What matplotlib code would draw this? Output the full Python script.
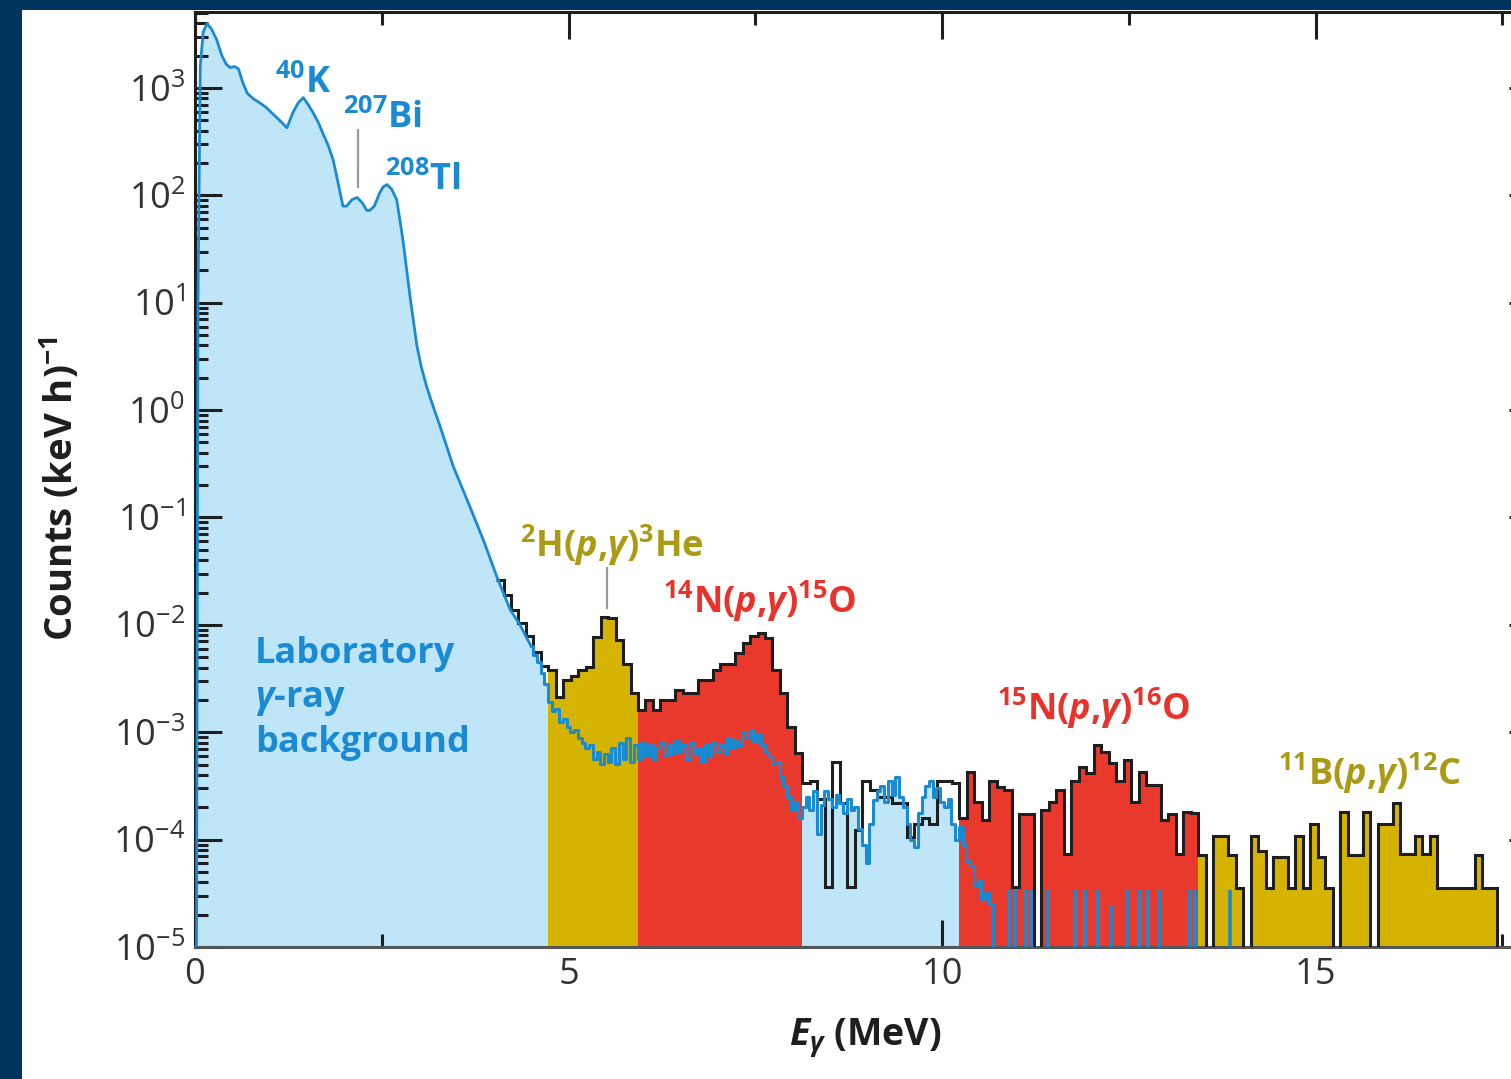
import numpy as np
import matplotlib.pyplot as plt
from matplotlib.patches import Rectangle
from matplotlib.ticker import LogLocator, MultipleLocator, NullFormatter

plt.rcParams['font.family'] = ['Open Sans', 'DejaVu Sans']
plt.rcParams['mathtext.fontset'] = 'custom'
plt.rcParams['mathtext.rm'] = 'Open Sans'
plt.rcParams['mathtext.it'] = 'Open Sans:italic:bold'
plt.rcParams['mathtext.bf'] = 'Open Sans:bold'

# colours
NAVY = '#00345f'
LIGHT_BLUE = '#bfe5f8'
BLUE = '#1a8ad2'
GOLD = '#d4b400'
RED = '#e9392c'
GOLD_TXT = '#aa9a14'
RED_TXT = '#e8322a'
INK = '#1e1e1e'
FLOOR = 1e-7

# laboratory background, smooth part (E in MeV, log10 counts)
bg_smooth_E = [0.02, 0.04, 0.07, 0.11, 0.16, 0.22, 0.29, 0.36, 0.42, 0.47, 0.53, 0.58,
               0.64, 0.70, 0.78, 0.87, 0.95, 1.04, 1.13, 1.23, 1.31, 1.38, 1.45, 1.52,
               1.58, 1.65, 1.71, 1.78, 1.85, 1.92, 1.98, 2.03, 2.10, 2.17, 2.24, 2.30,
               2.34, 2.40, 2.47, 2.52, 2.57, 2.63, 2.70, 2.78, 2.88, 2.97, 3.03, 3.10,
               3.18, 3.28, 3.46, 3.68, 3.86, 4.04, 4.22, 4.35, 4.50]
bg_smooth_log = [-5.0, 1.0, 3.2, 3.52, 3.60, 3.55, 3.45, 3.30, 3.22, 3.19, 3.20, 3.18,
                 3.05, 2.95, 2.90, 2.86, 2.82, 2.76, 2.70, 2.63, 2.77, 2.86, 2.91, 2.84,
                 2.77, 2.68, 2.58, 2.47, 2.33, 2.10, 1.90, 1.90, 1.96, 1.98, 1.93, 1.86,
                 1.86, 1.90, 2.02, 2.08, 2.10, 2.06, 1.96, 1.60, 1.05, 0.60, 0.40, 0.22,
                 0.05, -0.15, -0.53, -0.90, -1.21, -1.55, -1.86, -2.00, -2.20]

# laboratory background, fine bins from 4.50 MeV, 0.05 MeV wide (log10 counts, None = empty)
bg_fine_start = 4.50
bg_fine_width = 0.05
bg_fine_log = [
    -2.20, -2.28, -2.35, -2.45, -2.55, -2.72, -2.80, -2.78, -2.90, -2.88,
    -2.95, -3.00, -2.98, -3.05, -3.10, -3.15, -3.12, -3.25, -3.18, -3.30,
    -3.20, -3.28, -3.15, -3.30, -3.10, -3.25, -3.05, -3.28, -3.12, -3.25,
    -3.10, -3.22, -3.12, -3.25, -3.15, -3.10, -3.22, -3.12, -3.20, -3.08,
    -3.18, -3.12, -3.25, -3.10, -3.20, -3.15, -3.28, -3.12, -3.22, -3.10,
    -3.18, -3.12, -3.20, -3.05, -3.15, -3.08, -3.12, -3.00, -3.05, -2.98,
    -3.08, -3.02, -3.12, -3.18, -3.22, -3.30, -3.28, -3.42, -3.50, -3.60,
    -3.72, -3.65, -3.80, -3.70, -3.60, -3.72, -3.55, -3.95, -3.68, -3.55,
    -3.62, -3.70, -3.58, -3.66, -3.75, -3.62, -3.72, -3.70, -3.90, -4.05,
    -4.22, -3.85, -3.63, -3.55, -3.50, -3.65, -3.45, -3.58, -3.42, -3.60,
    -3.70, -3.85, -4.00, -4.07, -3.75, -3.60, -3.50, -3.45, -3.60, -3.52,
    -3.65, -3.70, -3.62, -3.85, -4.00, -3.88, -4.05, -4.20, -4.25, -4.42,
    -4.38, -4.55, -4.50, -4.60, None]

# isolated background counts above 10.7 MeV
bg_spike_E = [10.89, 10.98, 11.13, 11.20, 11.42, 11.78, 11.91, 12.09, 12.26,
              12.48, 12.63, 12.76, 12.90, 13.32, 13.38, 13.86]
bg_spike_log = [-4.47, -4.47, -4.47, -4.47, -4.47, -4.47, -4.47, -4.47, -4.62,
                -4.47, -4.47, -4.47, -4.47, -4.47, -4.47, -4.47]

# in-beam spectrum, 0.1 MeV bins from 4.03 MeV (log10 counts, None = empty)
beam_start = 4.03
beam_width = 0.1
beam_log = [
    -1.58, -1.72, -1.86, -1.98, -2.10, -2.25, -2.38, -2.42, -2.67, -2.51,
    -2.48, -2.42, -2.39, -2.11, -1.93, -1.94, -2.14, -2.36, -2.63, -2.79,
    -2.70, -2.79, -2.70, -2.70, -2.61, -2.63, -2.63, -2.51, -2.51, -2.42,
    -2.36, -2.36, -2.26, -2.17, -2.10, -2.08, -2.12, -2.42, -2.63, -2.95,
    -3.19, -3.47, -3.45, -3.62, -4.44, -3.28, -3.66, -4.44, -3.91, -3.45,
    -3.54, -3.60, -3.60, -3.66, -3.66, -3.98, -3.85, -3.80, -3.85, -3.45,
    -3.45, -3.47, -3.80, -3.37, -3.65, -3.82, -3.45, -3.51, -3.54, -4.44,
    -3.76, -3.76, None, -3.72, -3.65, -3.54, -4.13, -3.45, -3.32, -3.38,
    -3.12, -3.18, -3.29, -3.45, -3.26, -3.65, -3.37, -3.49, -3.49, -3.82,
    -3.76, -4.13, -3.74, -3.75, -4.14, None, -3.97, -3.97, -4.14, -4.45,
    None, -3.97, -4.11, -4.45, -4.16, -4.16, -4.45, -3.97, -4.45, -3.85,
    -4.16, -4.45, None, -3.74, -4.14, -4.14, -3.74, None, -3.85, -3.85,
    -3.66, -4.13, -4.13, -3.97, -4.13, -3.97, -4.45, -4.45, -4.45, -4.45,
    -4.45, -4.14, -4.45, -4.45, None, None, None, None, None, None]

# energy ranges and the reaction they are attributed to
region_bounds = [4.73, 5.93, 8.13, 10.23, 13.43, 18.03]
region_colors = [GOLD, RED, None, RED, GOLD]


def to_counts(logs):
    arr = np.array(logs, dtype=float)
    return np.where(np.isnan(arr), FLOOR, 10.0 ** arr)


sm_E = np.array(bg_smooth_E)
sm_v = to_counts(bg_smooth_log)
fine_v = to_counts(bg_fine_log)
fine_E = bg_fine_start + bg_fine_width * np.arange(len(fine_v))
beam_v = to_counts(beam_log)
beam_edges = beam_start + beam_width * np.arange(len(beam_v) + 1)

fig = plt.figure(figsize=(15.11, 10.79), dpi=100, facecolor=NAVY)
fig.patches.append(Rectangle((22 / 1511, 0), 1, 1 - 10 / 1079, transform=fig.transFigure,
                             facecolor='white', edgecolor='none', zorder=-5))
# the frame runs a little past the right edge of the picture
ax = fig.add_axes([195 / 1511, 132 / 1079, 1341 / 1511, 935 / 1079])
ax.set_yscale('log')
ax.set_xlim(0, 17.95)
ax.set_ylim(1e-5, 5.1e3)

# light blue area under the background
ax.fill_between(sm_E, sm_v, FLOOR, color=LIGHT_BLUE, lw=0, zorder=1)
ax.fill_between(fine_E, fine_v, FLOOR, step='mid', color=LIGHT_BLUE, lw=0, zorder=1)

# coloured parts of the in-beam spectrum
for lo, hi, col in zip(region_bounds[:-1], region_bounds[1:], region_colors):
    if col is None:
        continue
    i0 = int(np.argmin(np.abs(beam_edges - lo)))
    i1 = int(np.argmin(np.abs(beam_edges - hi)))
    ax.stairs(beam_v[i0:i1], beam_edges[i0:i1 + 1], baseline=FLOOR, fill=True,
              color=col, lw=0, zorder=2)

ax.vlines(bg_spike_E, FLOOR, to_counts(bg_spike_log), color=BLUE, lw=2.6, zorder=3)
ax.stairs(beam_v, beam_edges, baseline=None, color=INK, lw=2.2, zorder=4)
ax.plot(fine_E, fine_v, drawstyle='steps-mid', color=BLUE, lw=2.2, zorder=5)
ax.plot(sm_E, sm_v, color=BLUE, lw=2.0, zorder=5)

# pointer lines
ax.plot([2.18, 2.18], [405, 119], color='#9a9a9a', lw=1.6, zorder=5)
ax.plot([5.52, 5.52], [0.034, 0.0145], color='#9a9a9a', lw=1.6, zorder=5)

# labels
kw = dict(fontsize=26, fontweight='bold', ha='left', va='baseline', zorder=6)
ax.text(1.07, 890, r'$^{\mathbf{40}}$K', color=BLUE, **kw)
ax.text(1.98, 423, r'$^{\mathbf{207}}$Bi', color=BLUE, **kw)
ax.text(2.54, 112, r'$^{\mathbf{208}}$Tl', color=BLUE, **kw)
ax.text(4.35, 0.0428, r'$^{\mathbf{2}}$H($\mathit{p}$,$\mathit{\gamma}$)$^{\mathbf{3}}$He',
        color=GOLD_TXT, **kw)
ax.text(6.27, 0.0129, r'$^{\mathbf{14}}$N($\mathit{p}$,$\mathit{\gamma}$)$^{\mathbf{15}}$O',
        color=RED_TXT, **kw)
ax.text(10.74, 1.3e-3, r'$^{\mathbf{15}}$N($\mathit{p}$,$\mathit{\gamma}$)$^{\mathbf{16}}$O',
        color=RED_TXT, **kw)
ax.text(14.5, 3.2e-4, r'$^{\mathbf{11}}$B($\mathit{p}$,$\mathit{\gamma}$)$^{\mathbf{12}}$C',
        color=GOLD_TXT, **kw)
ax.text(0.80, 4.4e-3, 'Laboratory', color=BLUE, **kw)
ax.text(0.80, 1.72e-3, r'$\mathit{\gamma}$-ray', color=BLUE, **kw)
ax.text(0.80, 6.5e-4, 'background', color=BLUE, **kw)

# axes styling
ax.xaxis.set_major_locator(MultipleLocator(5))
ax.xaxis.set_minor_locator(MultipleLocator(2.5))
ax.yaxis.set_major_locator(LogLocator(10, numticks=20))
ax.yaxis.set_minor_locator(LogLocator(10, subs=np.arange(2, 10), numticks=20))
ax.yaxis.set_minor_formatter(NullFormatter())
ax.tick_params(which='both', direction='in', top=True, right=True, width=2.2,
               color=INK, labelsize=26, labelcolor='#333333', pad=7)
ax.tick_params(which='major', length=19.5)
ax.tick_params(which='minor', length=9.5)
for side, sp in ax.spines.items():
    sp.set_linewidth(2.2)
    sp.set_color(INK)
ax.spines['bottom'].set_color('#555555')

ax.set_ylabel(r'Counts (keV h)$^{\mathbf{-1}}$', fontsize=27.5, fontweight='bold', color=INK)
ax.yaxis.set_label_coords(-0.084, 0.49)
ax.set_xlabel(r'$\mathit{E}_{\mathit{\gamma}}$ (MeV)', fontsize=27, fontweight='bold', color=INK)
ax.xaxis.set_label_coords(0.5, -0.074)

fig.savefig('out.png', dpi=100, facecolor=fig.get_facecolor())
